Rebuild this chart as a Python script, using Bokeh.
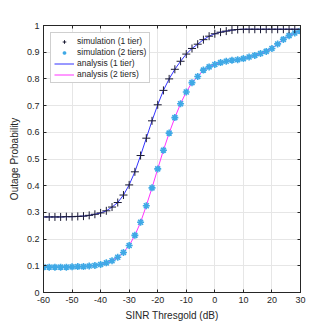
from bokeh.plotting import figure
from bokeh.models import LinearAxis, FixedTicker, Range1d, Legend, LegendItem
from bokeh.embed import file_html
from bokeh.resources import INLINE

sinr_db = list(range(-60, 31, 2))

sim_1tier = [0.283, 0.283, 0.283, 0.283, 0.284, 0.284, 0.285, 0.286, 0.289, 0.293,
             0.298, 0.306, 0.320, 0.337, 0.365, 0.403, 0.452, 0.513, 0.578, 0.643,
             0.703, 0.757, 0.800, 0.836, 0.866, 0.893, 0.914, 0.930, 0.947, 0.960,
             0.969, 0.975, 0.979, 0.983, 0.985, 0.986, 0.986, 0.986, 0.986, 0.986,
             0.986, 0.986, 0.986, 0.986, 0.986, 0.986]

sim_2tier = [0.095, 0.095, 0.095, 0.095, 0.095, 0.096, 0.097, 0.097, 0.099, 0.101,
             0.105, 0.111, 0.119, 0.132, 0.150, 0.176, 0.214, 0.263, 0.325, 0.392,
             0.463, 0.533, 0.597, 0.655, 0.707, 0.751, 0.786, 0.809, 0.833, 0.845,
             0.854, 0.861, 0.866, 0.870, 0.872, 0.876, 0.882, 0.888, 0.895, 0.903,
             0.914, 0.931, 0.948, 0.962, 0.972, 0.979]

ana_1tier = sim_1tier
ana_2tier = sim_2tier

x_ticks = [-60, -50, -40, -30, -20, -10, 0, 10, 20, 30]
y_ticks = [0, 0.1, 0.2, 0.3, 0.4, 0.5, 0.6, 0.7, 0.8, 0.9, 1]

FONT = "Liberation Sans"
TXT = "#262626"

p = figure(width=324, height=323, output_backend="svg", toolbar_location=None,
           x_range=Range1d(-60, 30), y_range=Range1d(0, 1),
           min_border_left=43, min_border_top=25, min_border_right=24, min_border_bottom=29)

p.outline_line_color = TXT
p.outline_line_width = 1

for ax in (p.xaxis[0], p.yaxis[0]):
    ax.major_tick_in = 3
    ax.major_tick_out = 0
    ax.minor_tick_line_color = None
    ax.axis_line_color = TXT
    ax.major_tick_line_color = TXT
    ax.major_label_text_font = FONT
    ax.major_label_text_font_size = "9px"
    ax.major_label_text_color = TXT
    ax.axis_label_text_font = FONT
    ax.axis_label_text_font_size = "10px"
    ax.axis_label_text_font_style = "normal"
    ax.axis_label_text_color = TXT
    ax.axis_label_standoff = 4
    ax.major_label_standoff = 4

p.xaxis[0].ticker = FixedTicker(ticks=x_ticks)
p.yaxis[0].ticker = FixedTicker(ticks=y_ticks)
p.xaxis[0].major_label_overrides = {t: str(t) for t in x_ticks}
p.yaxis[0].major_label_overrides = {t: ("0" if t == 0 else ("1" if t == 1 else f"{t:.1f}")) for t in y_ticks}
p.xaxis[0].axis_label = "SINR Thresgold (dB)"
p.yaxis[0].axis_label = "Outage Probability"

for loc, tk in (("right", y_ticks), ("above", x_ticks)):
    a = LinearAxis(ticker=FixedTicker(ticks=tk), major_label_overrides={t: " " for t in tk},
                   major_label_text_font_size="1px",
                   major_tick_in=3, major_tick_out=0, minor_tick_line_color=None,
                   axis_line_color=TXT, major_tick_line_color=TXT,
                   major_label_standoff=0)
    p.add_layout(a, loc)

p.xgrid.ticker = FixedTicker(ticks=x_ticks)
p.ygrid.ticker = FixedTicker(ticks=y_ticks)
p.grid.grid_line_color = "#e6e6e6"
p.grid.grid_line_width = 1

r_a1 = p.line(sinr_db, ana_1tier, line_color="#3333ff", line_width=1)
r_a2 = p.line(sinr_db, ana_2tier, line_color="#ff33ff", line_width=1)
r_s2 = p.scatter(sinr_db, sim_2tier, marker="asterisk", size=7, line_color="#3fa9e6", line_width=1.6)
r_s1 = p.scatter(sinr_db, sim_1tier, marker="cross", size=8, line_color="#1a1a33", line_width=1)

legend = Legend(items=[
    LegendItem(label="simulation (1 tier)", renderers=[r_s1]),
    LegendItem(label="simulation (2 tiers)", renderers=[r_s2]),
    LegendItem(label="analysis (1 tier)", renderers=[r_a1]),
    LegendItem(label="analysis (2 tiers)", renderers=[r_a2]),
], location="top_left")
legend.label_text_font = FONT
legend.label_text_font_size = "8.5px"
legend.label_text_color = TXT
legend.label_height = 9
legend.glyph_height = 9
legend.glyph_width = 20
legend.spacing = 1
legend.padding = 3
legend.margin = 7
legend.label_standoff = 3
legend.border_line_color = "#a0a0a0"
legend.border_line_width = 1
legend.background_fill_color = "white"
legend.background_fill_alpha = 1
p.add_layout(legend, "center")

open("out.html", "w").write(file_html(p, INLINE))
